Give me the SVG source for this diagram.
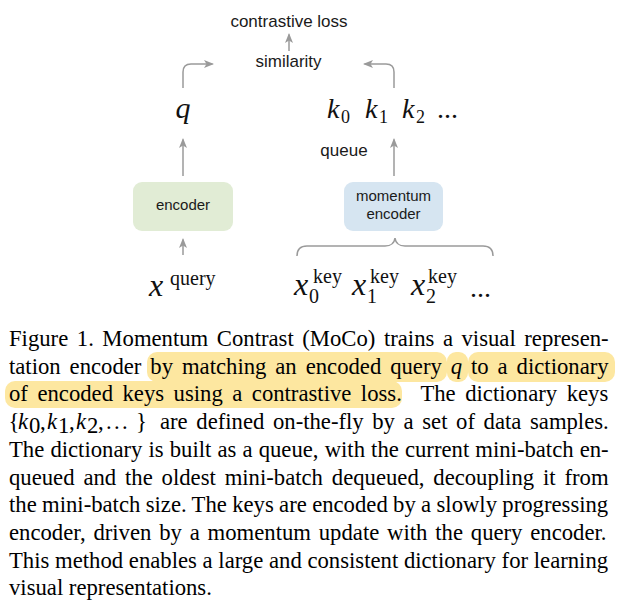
<svg xmlns="http://www.w3.org/2000/svg" width="626" height="607" viewBox="0 0 626 607">
<defs>
<marker id="arr" viewBox="0 0 10 8" markerWidth="10" markerHeight="8" refX="8.5" refY="4" orient="auto" markerUnits="userSpaceOnUse"><path d="M0,0 L10,4 L0,8 L2.5,4 Z" fill="#9a9a9a"/></marker>
<style>
.sans{font-family:"Liberation Sans",Arial,sans-serif;fill:#1a1a1a;font-size:17px}
.box{font-size:15px}
.math{font-family:"Liberation Serif","Times New Roman",serif;font-style:italic;fill:#111}
.rm{font-family:"Liberation Serif","Times New Roman",serif;font-style:normal;fill:#111}
.conn{fill:none;stroke:#9a9a9a;stroke-width:1.5}
.cap{font-family:"Liberation Serif","Times New Roman",serif;font-size:22.7px;fill:#000}
.it{font-style:italic}
.hl{fill:#fde7a0}
</style>
</defs>
<rect width="626" height="607" fill="#fff"/>

<g id="connectors">
<path class="conn" d="M289,51 V34.5" marker-end="url(#arr)"/>
<path class="conn" d="M183,88 V72 Q183,64 191,64 H212.5" marker-end="url(#arr)"/>
<path class="conn" d="M394,88 V72 Q394,64 386,64 H364.5" marker-end="url(#arr)"/>
<path class="conn" d="M183,176 V139.5" marker-end="url(#arr)"/>
<path class="conn" d="M394,176 V139.5" marker-end="url(#arr)"/>
<path class="conn" d="M183,255 V239.5" marker-end="url(#arr)"/>
<path class="conn" d="M297,256 Q297,246 307,246 H385 Q394,246 395,238 Q396,246 405,246 H483 Q493,246 493,256"/>
</g>

<g id="contrastive-loss"><text class="sans" x="289" y="27" text-anchor="middle">contrastive loss</text></g>
<g id="similarity"><text class="sans" x="288.5" y="67" text-anchor="middle">similarity</text></g>
<g id="q"><text class="math" x="183" y="118" font-size="30" text-anchor="middle">q</text></g>
<g id="keys">
<text class="math" x="327" y="118" font-size="28">k</text><text class="rm" x="341" y="123" font-size="18">0</text>
<text class="math" x="365" y="118" font-size="28">k</text><text class="rm" x="379" y="123" font-size="18">1</text>
<text class="math" x="402" y="118" font-size="28">k</text><text class="rm" x="416" y="123" font-size="18">2</text>
<text class="rm" x="437" y="118" font-size="28">...</text>
</g>
<g id="queue"><text class="sans" x="344" y="156" text-anchor="middle">queue</text></g>

<g id="encoder">
<rect x="133" y="182" width="100" height="49" rx="9" fill="#e1ecd5"/>
<text class="sans box" x="183" y="210" text-anchor="middle">encoder</text>
</g>
<g id="momentum-encoder">
<rect x="344" y="182" width="99" height="49" rx="9" fill="#d6e5f1"/>
<text class="sans box" x="393.5" y="201" text-anchor="middle">momentum</text>
<text class="sans box" x="393.5" y="219" text-anchor="middle">encoder</text>
</g>

<g id="x-query">
<text class="math" x="149" y="296" font-size="32">x</text><text class="rm" x="170" y="285" font-size="20">query</text>
</g>
<g id="x-keys">
<text class="math" x="294" y="295" font-size="32">x</text><text class="rm" x="313" y="283" font-size="20">key</text><text class="rm" x="309" y="303" font-size="20">0</text>
<text class="math" x="352" y="295" font-size="32">x</text><text class="rm" x="370" y="283" font-size="20">key</text><text class="rm" x="367" y="303" font-size="20">1</text>
<text class="math" x="411" y="295" font-size="32">x</text><text class="rm" x="428" y="283" font-size="20">key</text><text class="rm" x="426" y="303" font-size="20">2</text>
<text class="rm" x="470" y="297" font-size="28">...</text>
</g>

<g id="caption">
<rect class="hl" x="147" y="352" width="300" height="30" rx="10"/>
<rect class="hl" x="447" y="352" width="21" height="30" rx="9"/>
<rect class="hl" x="468" y="352" width="147" height="30" rx="10"/>
<rect class="hl" x="5" y="381" width="397" height="27" rx="10"/>
<text class="cap" x="9" y="346" word-spacing="2.89">Figure 1. Momentum Contrast (MoCo) trains a visual represen-</text>
<text class="cap" x="9" y="373.7" word-spacing="3.26">tation encoder by matching an encoded query <tspan class="it">q</tspan> to a dictionary</text>
<text class="cap" x="9" y="401.4" word-spacing="3.83">of encoded keys using a contrastive loss.&#160; The dictionary keys</text>
<text class="cap" x="8.5" y="429.1">{</text>
<text class="cap it" x="18" y="429.1">k</text><text class="cap" x="29" y="433" font-size="16">0</text><text class="cap" x="40" y="429.1">,</text>
<text class="cap it" x="47" y="429.1">k</text><text class="cap" x="58" y="433" font-size="16">1</text><text class="cap" x="69" y="429.1">,</text>
<text class="cap it" x="76" y="429.1">k</text><text class="cap" x="87" y="433" font-size="16">2</text><text class="cap" x="98" y="429.1">,</text>
<text class="cap" x="106" y="429.1">.</text><text class="cap" x="114" y="429.1">.</text><text class="cap" x="122" y="429.1">.</text>
<text class="cap" x="136" y="429.1">}</text>
<text class="cap" x="160" y="429.1" word-spacing="2.94">are defined on-the-fly by a set of data samples.</text>
<text class="cap" x="9" y="456.8" word-spacing="0.45">The dictionary is built as a queue, with the current mini-batch en-</text>
<text class="cap" x="9" y="484.5" word-spacing="3.2">queued and the oldest mini-batch dequeued, decoupling it from</text>
<text class="cap" x="9" y="512.2" word-spacing="-0.33">the mini-batch size. The keys are encoded by a slowly progressing</text>
<text class="cap" x="9" y="539.9" word-spacing="2.16">encoder, driven by a momentum update with the query encoder.</text>
<text class="cap" x="9" y="567.6" word-spacing="0.04">This method enables a large and consistent dictionary for learning</text>
<text class="cap" x="9" y="595.3">visual representations.</text>
</g>
</svg>
